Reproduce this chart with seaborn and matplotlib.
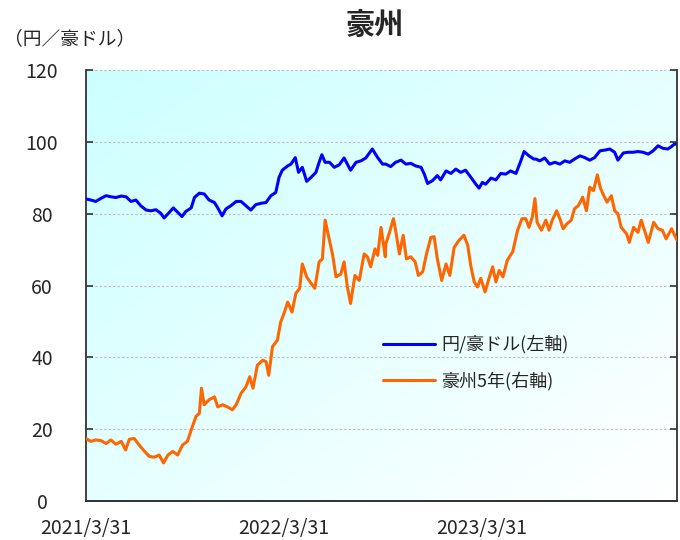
# 豪州: 円/豪ドル (左軸) と 豪州5年債利回り (右軸)

import numpy as np
import pandas as pd
import matplotlib
matplotlib.use('Agg')
import matplotlib.pyplot as plt
import seaborn as sns

start_date = "2021-03-31"
end_date = "2024-03-25"

# 円/豪ドル (days since start, value)
aud_days = [0, 9, 18, 28, 37, 46, 55, 65, 74, 83, 92, 101, 111, 120, 129, 138, 144, 154, 161, 169,
            177, 184, 194, 200, 209, 218, 227, 237, 243, 251, 258, 267, 277,
            286, 295, 304, 313, 323, 332, 341, 350, 356, 362, 372, 378, 386, 392, 399, 407, 415, 424,
            430, 435, 441, 449, 458, 467, 476, 488, 498, 507, 516, 528, 538, 547,
            553, 562, 571, 581, 590, 599, 608, 618, 624, 630, 639, 648, 654, 664, 673, 682, 691, 700,
            710, 719, 725, 731, 737, 747, 756, 765, 774, 783, 793, 802, 808, 817, 826,
            830, 837, 846, 855, 865, 874, 883, 892, 901, 911, 920, 929, 938, 948, 957, 966, 975, 981,
            991, 1000, 1009, 1018, 1027, 1037, 1046, 1055, 1064, 1073, 1080, 1086, 1090]
aud_jpy = [84.1, 83.8, 83.4, 84.3, 85.0, 84.7, 84.5, 84.9, 84.7, 83.4, 83.8, 82.2, 81.0, 80.8, 81.1, 80.1, 78.8, 80.4, 81.6, 80.4,
           79.2, 80.6, 81.6, 84.5, 85.7, 85.5, 83.8, 83.1, 81.6, 79.4, 81.3, 82.2, 83.4,
           83.4, 82.2, 81.0, 82.5, 82.9, 83.1, 85.0, 85.9, 90.1, 92.1, 93.3, 93.8, 95.6, 91.5, 92.9, 89.0, 90.1, 91.5,
           94.3, 96.4, 94.3, 94.3, 92.9, 93.6, 95.5, 92.1, 94.3, 94.7, 95.5, 98.0, 95.6, 93.8,
           93.8, 93.1, 94.3, 94.9, 93.8, 94.0, 93.3, 92.9, 91.0, 88.4, 89.2, 90.6, 89.4, 91.9, 91.2, 92.4, 91.5, 92.1,
           90.1, 88.2, 87.1, 88.7, 88.2, 89.9, 89.4, 91.2, 91.0, 91.9, 91.2, 94.7, 97.3, 96.1, 95.2,
           95.2, 94.7, 95.5, 93.8, 94.3, 93.8, 94.7, 94.3, 95.2, 96.1, 95.6, 94.9, 95.6, 97.5, 97.7, 98.0, 97.1, 94.9,
           96.9, 97.1, 97.1, 97.3, 97.1, 96.6, 97.5, 98.9, 98.2, 98.0, 98.7, 99.5, 99.2]

# 豪州5年 利回り % (days since start, value)
bond_days = [0, 9, 18, 28, 37, 46, 55, 65, 73, 80, 89, 98, 108, 117, 126, 135, 143, 151, 160, 169,
             178, 187, 195, 203, 209, 213, 218, 227, 237, 243, 252, 261, 270,
             277, 286, 295, 302, 308, 316, 326, 332, 337, 344, 353, 359, 366, 372, 380, 387, 394, 399,
             407, 415, 422, 430, 436, 441, 449, 455, 461, 470, 476, 482, 488, 496, 504, 513, 519, 525,
             533, 538, 544, 552,
             553, 559, 567, 571, 578, 585, 591, 599, 607, 613, 621, 628, 636, 642, 648, 656, 664, 671,
             679, 688, 697, 704, 710, 716, 722, 728, 736, 744, 750, 756, 762, 769, 777, 787, 796, 804,
             811, 817, 823, 828,
             832, 840, 848, 854, 860, 868, 874, 880, 887, 895, 901, 908, 916, 923, 929, 936, 943, 949,
             955, 961, 969, 975, 981, 987, 997, 1002, 1010, 1018, 1024, 1030, 1037, 1047, 1055, 1063,
             1070, 1080, 1090]
bond_5y = [0.87, 0.83, 0.85, 0.84, 0.80, 0.85, 0.79, 0.83, 0.71, 0.86, 0.87, 0.78, 0.69, 0.62, 0.61, 0.64, 0.53, 0.64, 0.69, 0.64,
           0.78, 0.83, 1.01, 1.18, 1.22, 1.57, 1.34, 1.41, 1.45, 1.31, 1.34, 1.31, 1.27,
           1.34, 1.50, 1.59, 1.73, 1.57, 1.89, 1.96, 1.94, 1.75, 2.15, 2.24, 2.49, 2.63, 2.77, 2.63, 2.89, 2.96, 3.30,
           3.12, 3.03, 2.96, 3.33, 3.37, 3.91, 3.63, 3.42, 3.12, 3.16, 3.33, 2.98, 2.75, 3.14, 3.07, 3.44, 3.40, 3.26,
           3.51, 3.42, 3.81, 3.40,
           3.58, 3.72, 3.93, 3.77, 3.44, 3.70, 3.37, 3.40, 3.33, 3.14, 3.19, 3.44, 3.67, 3.68, 3.37, 3.07, 3.30, 3.14,
           3.53, 3.63, 3.70, 3.56, 3.26, 3.05, 2.98, 3.10, 2.91, 3.12, 3.26, 3.05, 3.21, 3.12, 3.35, 3.47, 3.77, 3.93,
           3.93, 3.81, 3.95, 4.21,
           3.88, 3.77, 3.91, 3.77, 3.91, 4.04, 3.93, 3.79, 3.86, 3.91, 4.07, 4.11, 4.23, 4.04, 4.37, 4.32, 4.54, 4.35,
           4.25, 4.16, 4.25, 4.04, 4.00, 3.81, 3.72, 3.60, 3.81, 3.74, 3.91, 3.77, 3.60, 3.88, 3.79, 3.77,
           3.65, 3.79, 3.63]

tick_dates = ["2021-03-31", "2022-03-31", "2023-03-31"]
tick_labels = ["2021/3/31", "2022/3/31", "2023/3/31"]
left_ticks = [0, 20, 40, 60, 80, 100, 120]
right_ticks = [0, 1, 2, 3, 4, 5, 6]


def main():
    sns.set_style("white")
    plt.rcParams['font.family'] = ['Noto Sans CJK JP', 'DejaVu Sans']

    t0 = pd.Timestamp(start_date)
    df_fx = pd.DataFrame({"date": t0 + pd.to_timedelta(aud_days, unit="D"), "value": aud_jpy})
    df_bond = pd.DataFrame({"date": t0 + pd.to_timedelta(bond_days, unit="D"), "value": bond_5y})

    fig = plt.figure(figsize=(6.8, 5.4), dpi=100)
    ax = fig.add_axes([86 / 680, 39 / 540, 591 / 680, 431 / 540])

    # diagonal background gradient (light cyan -> white)
    gx, gy = np.meshgrid(np.linspace(0, 1, 256), np.linspace(1, 0, 256))
    t = (gx + (1 - gy)) / 2
    c0 = np.array([0.80, 1.0, 1.0])
    c1 = np.array([1.0, 1.0, 1.0])
    rgb = c0 + (c1 - c0) * t[..., None]
    ax.imshow(rgb, extent=[0, 1, 0, 1], transform=ax.transAxes, aspect='auto',
              zorder=0, interpolation='bilinear')

    sns.lineplot(data=df_fx, x="date", y="value", ax=ax, color="#0000FF",
                 linewidth=2.2, label="円/豪ドル(左軸)", legend=False, zorder=3)

    ax2 = ax.twinx()
    sns.lineplot(data=df_bond, x="date", y="value", ax=ax2, color="#FF6600",
                 linewidth=2.2, label="豪州5年(右軸)", legend=False, zorder=3)

    ax.set_xlim(t0, pd.Timestamp(end_date))
    ax.set_ylim(0, 120)
    ax2.set_ylim(0, 6)

    ax.set_xlabel("")
    ax.set_ylabel("")
    ax2.set_ylabel("")

    # grid
    ax.set_yticks(left_ticks)
    ax.yaxis.grid(True, color="#BBBBBB", linestyle=(0, (2, 2)), linewidth=0.8)
    ax.xaxis.grid(False)
    ax.set_axisbelow(True)

    ax.set_xticks(pd.to_datetime(tick_dates))
    ax.set_xticklabels(tick_labels)
    ax.tick_params(axis='x', direction='in', length=7, width=1.0, pad=12,
                   labelsize=14, color="#333333")
    ax.tick_params(axis='y', direction='in', length=5, width=1.2, pad=31.7,
                   labelsize=14, color="#333333")
    plt.setp(ax.get_yticklabels(), ha='center')

    ax2.set_yticks(right_ticks)
    ax2.tick_params(axis='y', direction='in', length=5, width=1.2, labelright=False,
                    color="#333333")

    for a in (ax, ax2):
        a.spines['top'].set_visible(False)
        for s in ('left', 'right', 'bottom'):
            a.spines[s].set_color("#333333")
            a.spines[s].set_linewidth(1.3)
    ax.spines['right'].set_visible(False)
    ax2.spines['left'].set_visible(False)

    # legend
    h1, l1 = ax.get_legend_handles_labels()
    h2, l2 = ax2.get_legend_handles_labels()
    ax2.legend(h1 + h2, l1 + l2, loc='upper left', bbox_to_anchor=(0.5025, 0.385),
               frameon=False, fontsize=13, handlelength=2.9, handletextpad=0.35,
               labelspacing=1.0, borderpad=0, borderaxespad=0)

    fig.text(375 / 680, 1 - 25 / 540, "豪州", ha='center', va='center',
             fontsize=21, fontweight='bold')
    fig.text(4 / 680, 1 - 39 / 540, "（円／豪ドル）", ha='left', va='center', fontsize=13.5)

    fig.savefig("out.png", dpi=100)
    plt.close(fig)


if __name__ == "__main__":
    main()
